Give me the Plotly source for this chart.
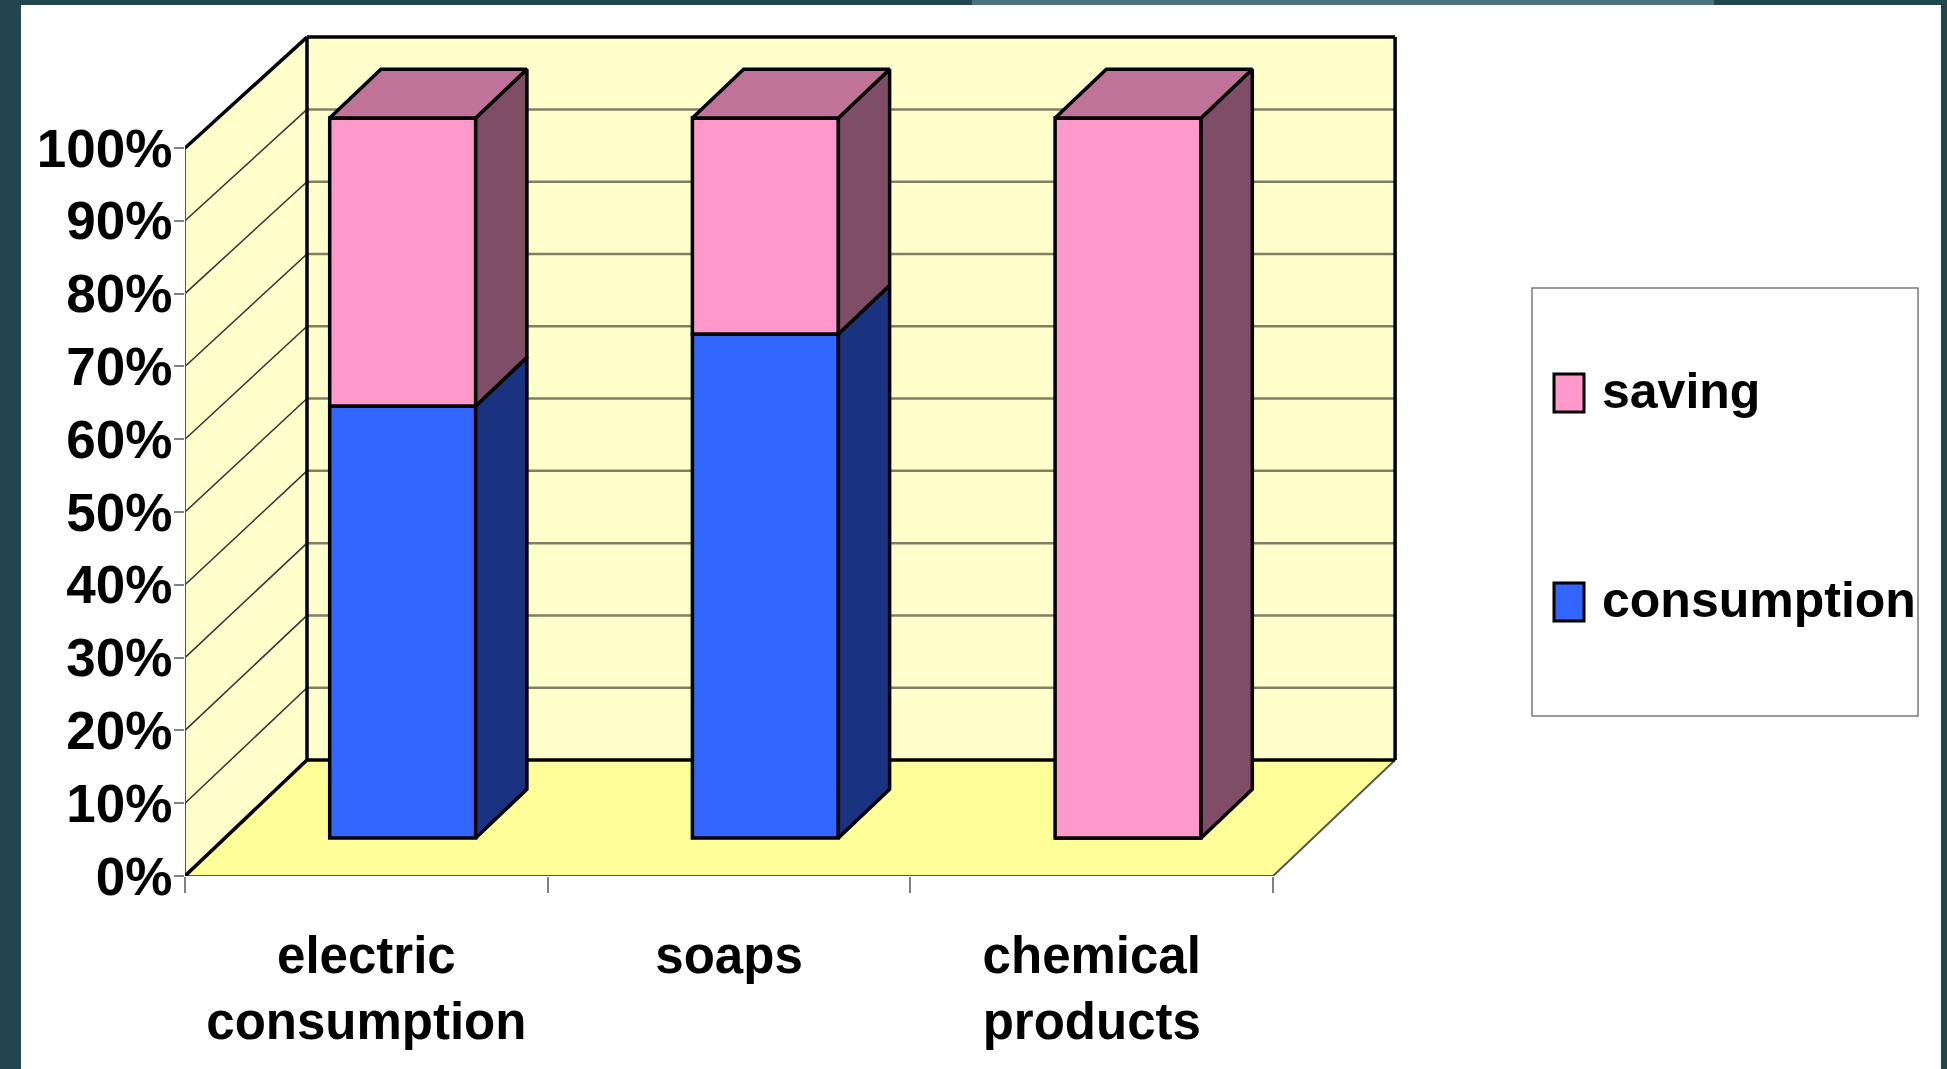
import plotly.graph_objects as go

# ---------------- data ----------------
categories = ["electric<br>consumption", "soaps", "chemical<br>products"]
series_names = ["consumption", "saving"]          # stacking order, bottom -> top
consumption = [60, 70, 0]
saving = [40, 30, 100]
y_tick_values = [0, 10, 20, 30, 40, 50, 60, 70, 80, 90, 100]
y_tick_labels = ["0%", "10%", "20%", "30%", "40%", "50%", "60%", "70%", "80%", "90%", "100%"]
legend_order = ["saving", "consumption"]

# ---------------- style ----------------
front_col = {"consumption": "#3366FF", "saving": "#FF99CC"}
side_col = {"consumption": "#1A3380", "saving": "#804D66"}
top_col = {"consumption": "#2A4FC0", "saving": "#BF7399"}
WALL = "#FFFFCC"
FLOOR = "#FFFF99"
FRAME = "#22444C"
FONT = "Liberation Sans Narrow, Arial Narrow, Liberation Sans, Arial, sans-serif"

FIG_W, FIG_H = 1947, 1069
L, R_EDGE, T, B_EDGE = 185, 1410, 25, 876
U = 362.7            # px per category
P = 7.28             # px per percent
XR = (R_EDGE - L) / U
YR = (B_EDGE - T) / P

DX = 122 / U         # full depth (x units)
DY = 116 / P         # full depth (percent units)
F1 = 0.3276          # depth of bar front
FB = 0.42            # bar depth
BAR_C = 0.49
BAR_W = 0.4025
BAR_VS = 0.989       # projected vertical scale of the bars
WALL_VS = 0.993      # projected vertical scale of the back wall

def path(pts):
    return "M " + " L ".join(f"{x:.5f},{y:.5f}" for x, y in pts) + " Z"

def px_x(p):
    return (p - L) / (R_EDGE - L)

def px_y(p):
    return (B_EDGE - p) / (B_EDGE - T)

TOPW = DY + 100 * WALL_VS
shapes = []
# walls and floor
shapes.append(dict(type="path", xref="x", yref="y", layer="below", line=dict(width=0),
                   fillcolor=WALL, path=path([(DX, DY), (3 + DX, DY), (3 + DX, TOPW), (DX, TOPW)])))
shapes.append(dict(type="path", xref="x", yref="y", layer="below", line=dict(width=0),
                   fillcolor=WALL, path=path([(0, 0), (DX, DY), (DX, TOPW), (0, 100)])))
shapes.append(dict(type="path", xref="x", yref="y", layer="below", line=dict(width=0),
                   fillcolor=FLOOR, path=path([(0, 0), (3, 0), (3 + DX, DY), (DX, DY)])))
# gridlines
for v in y_tick_values[1:-1]:
    yw = DY + v * WALL_VS
    shapes.append(dict(type="line", xref="x", yref="y", layer="below",
                       x0=DX, x1=3 + DX, y0=yw, y1=yw, line=dict(color="#7F7F66", width=2.5)))
    shapes.append(dict(type="line", xref="x", yref="y", layer="below",
                       x0=0, x1=DX, y0=v, y1=yw, line=dict(color="#333333", width=1.5)))
# thin edges
for (x0, y0, x1, y1) in [(0, 0, 3, 0), (3, 0, 3 + DX, DY), (0, 0, 0, 100)]:
    shapes.append(dict(type="line", xref="x", yref="y", layer="below",
                       x0=x0, y0=y0, x1=x1, y1=y1, line=dict(color="#555555", width=2)))
# thick edges
for (x0, y0, x1, y1) in [(0, 100, DX, TOPW), (0, 0, DX, DY), (DX, DY, DX, TOPW),
                         (DX, TOPW, 3 + DX, TOPW), (3 + DX, DY, 3 + DX, TOPW),
                         (DX, DY, 3 + DX, DY)]:
    shapes.append(dict(type="line", xref="x", yref="y", layer="below",
                       x0=x0, y0=y0, x1=x1, y1=y1, line=dict(color="black", width=3.5)))

# frame of the slide
for (a, b, c, d, col) in [(0, 0, 21, FIG_H, FRAME), (0, 0, FIG_W, 5, FRAME),
                          (1941, 0, FIG_W, FIG_H, FRAME), (972, 0, 1714, 5, "#4A7380")]:
    shapes.append(dict(type="rect", xref="paper", yref="paper", layer="above", line=dict(width=0),
                       fillcolor=col, x0=px_x(a), x1=px_x(c), y0=px_y(b), y1=px_y(d)))

# manual legend
shapes.append(dict(type="rect", xref="paper", yref="paper", layer="above",
                   line=dict(color="#7A7A7A", width=1.5), fillcolor="rgba(0,0,0,0)",
                   x0=px_x(1532), x1=px_x(1918), y0=px_y(288), y1=px_y(716)))
annotations = []
for name, ycen in zip(legend_order, [393, 602]):
    shapes.append(dict(type="rect", xref="paper", yref="paper", layer="above",
                       line=dict(color="black", width=3), fillcolor=front_col[name],
                       x0=px_x(1554), x1=px_x(1584), y0=px_y(ycen - 19), y1=px_y(ycen + 19)))
    annotations.append(dict(xref="paper", yref="paper", x=px_x(1600), y=px_y(ycen - 2),
                            xanchor="left", yanchor="middle", showarrow=False, text=name,
                            font=dict(family=FONT, size=50, color="black", weight="bold")))

fig = go.Figure()
values = {"consumption": consumption, "saving": saving}
xs_front = [i + BAR_C - BAR_W / 2 + F1 * DX for i in range(len(categories))]

# front faces as bars
cum = [0] * len(categories)
bases = {}
for name in series_names:
    vals = values[name]
    bases[name] = list(cum)
    fig.add_trace(go.Bar(
        x=[x + BAR_W / 2 for x in xs_front], y=[v * BAR_VS for v in vals],
        base=[F1 * DY + c * BAR_VS for c in cum], width=BAR_W, name=name,
        marker=dict(color=front_col[name], line=dict(color="black", width=3.5)),
        showlegend=False, hoverinfo="skip"))
    cum = [c + v for c, v in zip(cum, vals)]

# side faces and top faces
bdx, bdy = FB * DX, FB * DY
for i in range(len(categories)):
    xr = xs_front[i] + BAR_W
    xl = xs_front[i]
    top_name = None
    for name in series_names:
        v = values[name][i]
        if v <= 0:
            continue
        b0 = F1 * DY + bases[name][i] * BAR_VS
        b1 = b0 + v * BAR_VS
        top_name = name
        fig.add_trace(go.Scatter(
            x=[xr, xr + bdx, xr + bdx, xr, xr], y=[b0, b0 + bdy, b1 + bdy, b1, b0],
            mode="lines", fill="toself", fillcolor=side_col[name],
            line=dict(color="black", width=3.5), showlegend=False, hoverinfo="skip"))
    if top_name is not None:
        tt = F1 * DY + cum[i] * BAR_VS
        fig.add_trace(go.Scatter(
            x=[xl, xr, xr + bdx, xl + bdx, xl], y=[tt, tt, tt + bdy, tt + bdy, tt],
            mode="lines", fill="toself", fillcolor=top_col[top_name],
            line=dict(color="black", width=3.5), showlegend=False, hoverinfo="skip"))

fig.update_layout(
    width=FIG_W, height=FIG_H,
    margin=dict(l=L, r=FIG_W - R_EDGE, t=T, b=FIG_H - B_EDGE, pad=0, autoexpand=False),
    paper_bgcolor="white", plot_bgcolor="rgba(0,0,0,0)",
    barmode="overlay", showlegend=False,
    shapes=shapes, annotations=annotations,
    xaxis=dict(range=[0, XR], showgrid=False, zeroline=False, showline=False, automargin=False,
               tickmode="array", tickvals=[i + 0.5 for i in range(len(categories))],
               ticktext=categories, ticks="", ticklabelstandoff=45,
               tickfont=dict(family=FONT, size=51, color="black", weight="bold"),
               minor=dict(tickmode="array", tickvals=list(range(len(categories) + 1)),
                          ticks="outside", ticklen=16, tickcolor="#808080", tickwidth=2,
                          showgrid=False)),
    yaxis=dict(range=[0, YR], showgrid=False, zeroline=False, showline=False, automargin=False,
               tickmode="array", tickvals=y_tick_values, ticktext=y_tick_labels,
               ticks="outside", ticklen=10, tickcolor="#808080", tickwidth=2, ticklabelstandoff=-9,
               tickfont=dict(family=FONT, size=53, color="black", weight="bold")),
)

fig.write_html("out.html", config={"displayModeBar": False},
               post_script="document.body.style.margin='0';document.body.style.padding='0';"
                           "document.body.style.overflow='hidden';")
